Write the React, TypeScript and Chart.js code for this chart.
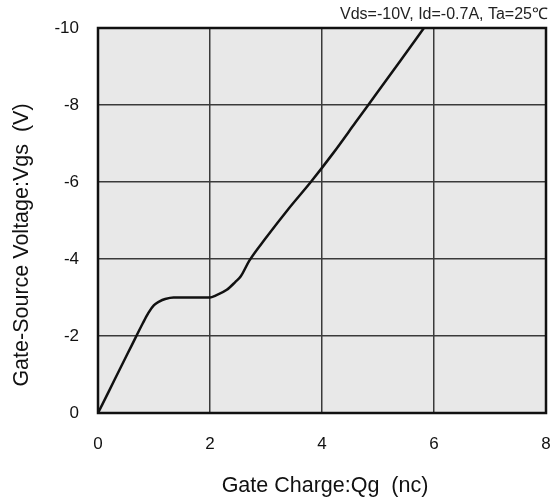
import React, { useEffect, useRef } from "react";
import { Chart, registerables } from "chart.js";

Chart.register(...registerables);

const gateCharge = [0, 0.2, 0.4, 0.6, 0.8, 0.9, 1.0, 1.1, 1.2, 1.35, 2.0, 2.1, 2.3, 2.45, 2.55, 2.7, 3.0, 3.4, 3.8, 4.2, 4.6, 5.0, 5.4, 5.82];
const gateVoltage = [0, -0.58, -1.17, -1.75, -2.33, -2.6, -2.8, -2.9, -2.96, -3.0, -3.0, -3.05, -3.2, -3.4, -3.55, -3.95, -4.55, -5.3, -6.0, -6.75, -7.55, -8.35, -9.15, -10];
const xTicks = [0, 2, 4, 6, 8];
const yTicks = [0, -2, -4, -6, -8, -10];
const conditionText = "Vds=-10V, Id=-0.7A, Ta=25℃";
const xTitle = "Gate Charge:Qg  (nc)";
const yTitle = "Gate-Source Voltage:Vgs  (V)";

const FONT = "'Liberation Sans', Arial, sans-serif";

export default function App() {
  const ref = useRef<HTMLCanvasElement | null>(null);
  useEffect(() => {
    document.body.style.margin = "0";
    const bgPlugin = {
      id: "bgPlugin",
      beforeDraw(chart: any) {
        const { ctx, chartArea } = chart;
        ctx.save();
        ctx.fillStyle = "#ffffff";
        ctx.fillRect(0, 0, chart.width, chart.height);
        ctx.fillStyle = "#e8e8e8";
        ctx.fillRect(chartArea.left, chartArea.top, chartArea.right - chartArea.left, chartArea.bottom - chartArea.top);
        ctx.restore();
      },
      afterDraw(chart: any) {
        const { ctx, chartArea } = chart;
        ctx.save();
        ctx.strokeStyle = "#111";
        ctx.lineWidth = 2.5;
        ctx.strokeRect(chartArea.left, chartArea.top, chartArea.right - chartArea.left, chartArea.bottom - chartArea.top);
        ctx.fillStyle = "#222";
        ctx.font = "16px " + FONT;
        ctx.textAlign = "right";
        ctx.textBaseline = "middle";
        ctx.fillText(conditionText, 548, 15);
        // axis titles
        ctx.fillStyle = "#111";
        ctx.font = "21.5px " + FONT;
        ctx.textAlign = "center";
        ctx.textBaseline = "alphabetic";
        ctx.fillText(xTitle, (chartArea.left + chartArea.right) / 2 + 3, 492);
        ctx.translate(28, 245);
        ctx.rotate(-Math.PI / 2);
        ctx.fillText(yTitle, 0, 0);
        ctx.restore();
      },
    };
    const chart = new Chart(ref.current as HTMLCanvasElement, {
      type: "line",
      data: {
        datasets: [
          {
            data: gateCharge.map((x, i) => ({ x, y: gateVoltage[i] })),
            borderColor: "#111",
            borderWidth: 2.5,
            pointRadius: 0,
            cubicInterpolationMode: "monotone",
            fill: false,
          },
        ],
      },
      options: {
        animation: false,
        responsive: false,
        maintainAspectRatio: false,
        layout: { padding: { top: 28, right: 4, left: 0, bottom: 0 } },
        plugins: { legend: { display: false }, tooltip: { enabled: false } },
        scales: {
          x: {
            type: "linear",
            min: 0,
            max: 8,
            afterBuildTicks: (s: any) => { s.ticks = xTicks.map((v) => ({ value: v })); },
            afterFit: (s: any) => { s.height = 84; s.paddingRight = 0; s.paddingLeft = 0; },
            grid: { color: "#3a3a3a", lineWidth: 1.5, drawTicks: false },
            border: { display: false },
            ticks: { color: "#111", font: { family: FONT, size: 17 }, padding: 21, maxRotation: 0 },
            title: { display: false },
          },
          y: {
            type: "linear",
            min: -10,
            max: 0,
            reverse: true,
            afterBuildTicks: (s: any) => { s.ticks = yTicks.map((v) => ({ value: v })); },
            afterFit: (s: any) => { s.width = 98; s.paddingTop = 0; s.paddingBottom = 0; },
            grid: { color: "#3a3a3a", lineWidth: 1.5, drawTicks: false },
            border: { display: false },
            ticks: { color: "#111", font: { family: FONT, size: 17 }, padding: 19 },
            title: { display: false },
          },
        },
      },
      plugins: [bgPlugin],
    } as any);
    return () => chart.destroy();
  }, []);
  return (
    <div style={{ width: 550, height: 497 }}>
      <canvas ref={ref} width={550} height={497} style={{ display: "block" }} />
    </div>
  );
}
